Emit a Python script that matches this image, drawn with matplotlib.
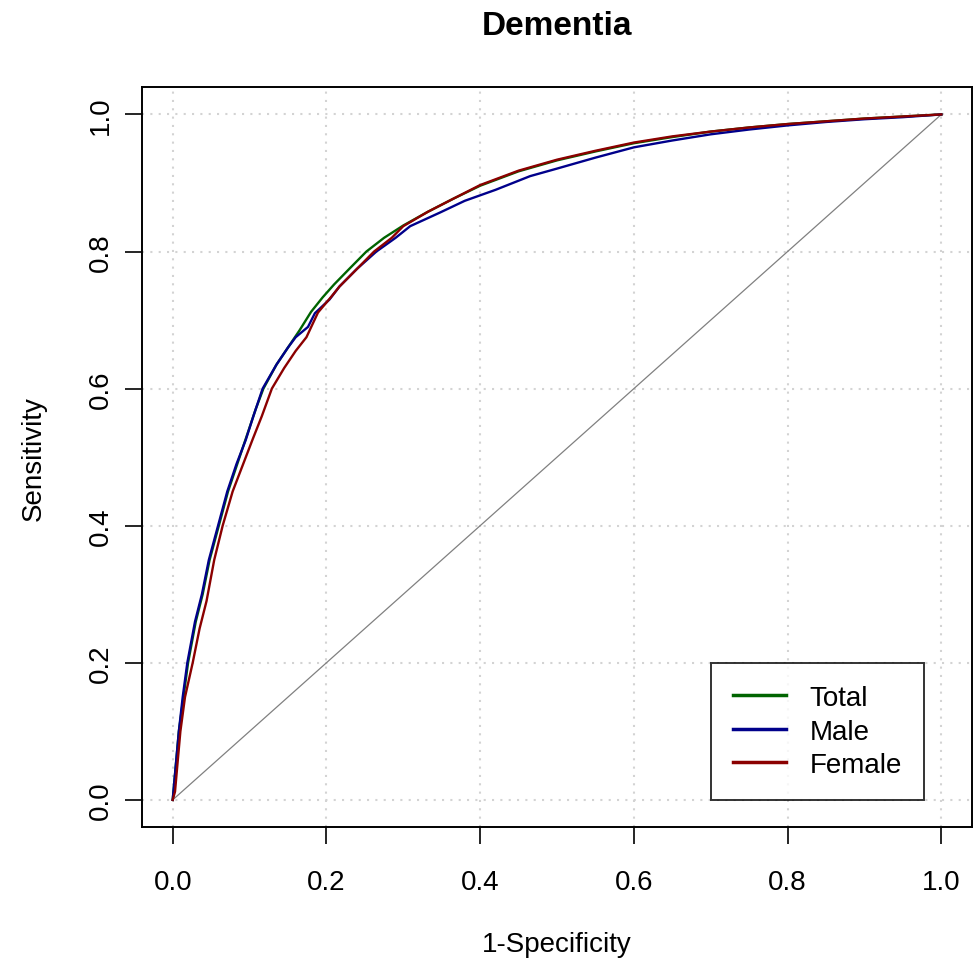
import numpy as np
import matplotlib
matplotlib.use("Agg")
from matplotlib import pyplot as plt

plt.rcParams['font.family'] = ['Liberation Sans', 'DejaVu Sans']

# ROC curves: 1-specificity (fpr) and sensitivity (tpr)
total_fpr = [0, 0.004, 0.008, 0.014, 0.020, 0.030, 0.039, 0.048, 0.060, 0.072, 0.084, 0.096,
             0.108, 0.118, 0.135, 0.150, 0.165, 0.180, 0.195, 0.210, 0.230, 0.252, 0.275, 0.300,
             0.332, 0.365, 0.400, 0.45, 0.50, 0.55, 0.60, 0.65, 0.70, 0.75, 0.80, 0.85, 0.90, 0.95, 1.0]
total_tpr = [0, 0.05, 0.10, 0.15, 0.20, 0.26, 0.30, 0.35, 0.40, 0.45, 0.49, 0.53,
             0.57, 0.60, 0.635, 0.66, 0.685, 0.712, 0.733, 0.752, 0.775, 0.80, 0.82, 0.838,
             0.858, 0.877, 0.896, 0.917, 0.933, 0.946, 0.958, 0.967, 0.975, 0.981, 0.986, 0.990, 0.994, 0.997, 1.0]

male_fpr = [0, 0.004, 0.008, 0.013, 0.019, 0.029, 0.038, 0.047, 0.059, 0.071, 0.083, 0.095,
            0.105, 0.117, 0.135, 0.150, 0.160, 0.176, 0.185, 0.204, 0.217, 0.240, 0.265, 0.290,
            0.309, 0.348, 0.380, 0.42, 0.465, 0.50, 0.55, 0.60, 0.65, 0.70, 0.75, 0.80, 0.85, 0.90, 0.95, 1.0]
male_tpr = [0, 0.05, 0.10, 0.15, 0.20, 0.26, 0.30, 0.35, 0.40, 0.45, 0.49, 0.525,
            0.56, 0.60, 0.635, 0.66, 0.675, 0.69, 0.71, 0.73, 0.749, 0.775, 0.80, 0.82,
            0.837, 0.857, 0.874, 0.89, 0.91, 0.921, 0.937, 0.952, 0.962, 0.971, 0.978, 0.984, 0.989, 0.993, 0.996, 1.0]

female_fpr = [0, 0.003, 0.006, 0.010, 0.016, 0.026, 0.035, 0.044, 0.054, 0.065, 0.078, 0.091,
              0.104, 0.116, 0.129, 0.145, 0.160, 0.174, 0.189, 0.207, 0.217, 0.240, 0.262, 0.285,
              0.300, 0.332, 0.365, 0.400, 0.45, 0.50, 0.55, 0.60, 0.65, 0.70, 0.75, 0.80, 0.85, 0.90, 0.95, 1.0]
female_tpr = [0, 0.012, 0.05, 0.10, 0.15, 0.20, 0.25, 0.29, 0.35, 0.40, 0.45, 0.488,
              0.526, 0.56, 0.60, 0.63, 0.655, 0.675, 0.711, 0.735, 0.749, 0.775, 0.80, 0.82,
              0.837, 0.858, 0.877, 0.897, 0.918, 0.934, 0.947, 0.959, 0.968, 0.975, 0.981, 0.986, 0.990, 0.994, 0.997, 1.0]

labels = ["Total", "Male", "Female"]
colors = ["darkgreen", "darkblue", "darkred"]
ticks = [0.0, 0.2, 0.4, 0.6, 0.8, 1.0]

fig = plt.figure(figsize=(9.75, 9.62), dpi=100)
ax = fig.add_axes([0.1456, 0.139, 0.8514, 0.7695])

ax.plot([0, 1], [0, 1], color="gray", lw=0.9, zorder=2)
for fpr, tpr, lab, col in zip([total_fpr, male_fpr, female_fpr],
                              [total_tpr, male_tpr, female_tpr], labels, colors):
    ax.plot(fpr, tpr, color=col, lw=1.7, label=lab, zorder=3)

ax.set_xlim(-0.04, 1.04)
ax.set_ylim(-0.04, 1.04)
ax.set_xticks(ticks)
ax.set_yticks(ticks)
ax.set_xticklabels([f"{t:.1f}" for t in ticks])
ax.set_yticklabels([f"{t:.1f}" for t in ticks])
ax.grid(True, color="lightgray", linestyle=(0, (1, 3)), lw=1.5)
ax.set_axisbelow(True)

for s in ax.spines.values():
    s.set_linewidth(1.4)
ax.tick_params(axis="both", length=12, width=1.2, labelsize=20)
ax.tick_params(axis="x", pad=18)
ax.tick_params(axis="y", pad=8, labelrotation=90)
for t in ax.get_yticklabels():
    t.set_va("center")

ax.set_xlabel("1-Specificity", fontsize=20, labelpad=26)
ax.set_ylabel("Sensitivity", fontsize=20, labelpad=30)
ax.set_title("Dementia", fontsize=24, fontweight="bold", pad=38)

leg = ax.legend(loc="upper left", bbox_to_anchor=(0.7, 0.2), bbox_transform=ax.transData,
                fontsize=20, frameon=True, fancybox=False, edgecolor="black",
                borderpad=0.8, labelspacing=0.27, handlelength=1.9, handletextpad=0.85,
                borderaxespad=0)
leg.get_frame().set_linewidth(1.4)
for line in leg.get_lines():
    line.set_linewidth(2.5)

fig.savefig("out.png", dpi=100)
